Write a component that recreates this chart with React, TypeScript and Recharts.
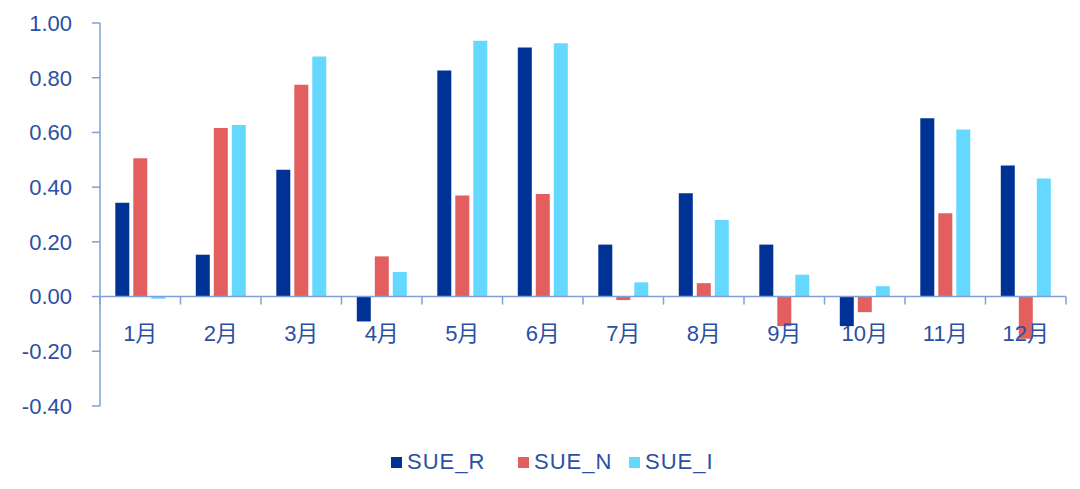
import React from 'react';
import { BarChart, Bar, XAxis, YAxis, ReferenceLine, Legend } from 'recharts';

const months = ['1月', '2月', '3月', '4月', '5月', '6月', '7月', '8月', '9月', '10月', '11月', '12月'];
const sueR = [0.343, 0.153, 0.464, -0.091, 0.826, 0.91, 0.19, 0.378, 0.19, -0.108, 0.652, 0.479];
const sueN = [0.506, 0.616, 0.774, 0.147, 0.369, 0.375, -0.013, 0.049, -0.108, -0.057, 0.305, -0.154];
const sueI = [-0.008, 0.627, 0.878, 0.09, 0.935, 0.926, 0.052, 0.28, 0.08, 0.038, 0.611, 0.432];
const yTicks = [-0.4, -0.2, 0, 0.2, 0.4, 0.6, 0.8, 1.0];
const seriesNames = ['SUE_R', 'SUE_N', 'SUE_I'];

const data = months.map((m, i) => ({ month: m, SUE_R: sueR[i], SUE_N: sueN[i], SUE_I: sueI[i] }));

const W = 1080;
const H = 489;
const M_TOP = 23;
const M_RIGHT = 14;
const M_BOTTOM = 23;
const X_H = 30;
const LEG_H = 30;
const Y_MIN = -0.4;
const Y_MAX = 1.0;
const PLOT_H = H - M_TOP - M_BOTTOM - X_H - LEG_H;
const ZERO_OFF = (PLOT_H * (0 - Y_MIN)) / (Y_MAX - Y_MIN);

const FONT = '"Liberation Sans", Arial, "Noto Sans CJK SC", sans-serif';
const TEXT_COLOR = '#2B4FA3';
const AXIS_COLOR = '#7FA0D8';
const COLORS = ['#003296', '#E35F5F', '#64D8FF'];
const LEGEND_LEFTS = [391, 518, 629];

const XTick = (props: any) => {
  const { x, y, payload, index } = props;
  const zeroY = y - ZERO_OFF;
  const half = payload.offset || 0;
  return (
    <g>
      <line x1={x - half} x2={x - half} y1={zeroY} y2={zeroY + 8} stroke={AXIS_COLOR} strokeWidth={1.5} />
      {index === months.length - 1 && (
        <line x1={x + half} x2={x + half} y1={zeroY} y2={zeroY + 8} stroke={AXIS_COLOR} strokeWidth={1.5} />
      )}
      <text x={x} y={zeroY + 44} textAnchor="middle" fill={TEXT_COLOR} fontSize={22} fontFamily={FONT}>
        {payload.value}
      </text>
    </g>
  );
};

const LegendContent = () => (
  <div style={{ position: 'relative', height: LEG_H, width: W }}>
    {seriesNames.map((n, i) => (
      <div
        key={n}
        style={{ position: 'absolute', left: LEGEND_LEFTS[i], top: 0, height: LEG_H, display: 'flex', alignItems: 'center' }}
      >
        <div style={{ width: 11, height: 11, background: COLORS[i], marginRight: 5 }} />
        <span style={{ fontFamily: FONT, fontSize: 22, letterSpacing: 1, color: TEXT_COLOR, lineHeight: '30px' }}>{n}</span>
      </div>
    ))}
  </div>
);

export default function App() {
  return (
    <div style={{ position: 'absolute', left: 0, top: 0, width: W, height: H, background: '#fff' }}>
      <BarChart
        width={W}
        height={H}
        data={data}
        margin={{ top: M_TOP, right: M_RIGHT, bottom: M_BOTTOM, left: 0 }}
        barCategoryGap="19%"
        barGap={4}
      >
        <YAxis
          width={100}
          domain={[Y_MIN, Y_MAX]}
          ticks={yTicks}
          type="number"
          allowDataOverflow
          tickFormatter={(v: number) => v.toFixed(2)}
          axisLine={{ stroke: AXIS_COLOR, strokeWidth: 1.5 }}
          tickLine={{ stroke: AXIS_COLOR, strokeWidth: 1.5 }}
          tickSize={8}
          tickMargin={20}
          tick={{ fill: TEXT_COLOR, fontSize: 22, fontFamily: FONT }}
        />
        {seriesNames.map((n, i) => (
          <Bar key={n} dataKey={n} fill={COLORS[i]} isAnimationActive={false} />
        ))}
        <ReferenceLine y={0} stroke={AXIS_COLOR} strokeWidth={1.5} />
        <XAxis
          dataKey="month"
          height={X_H}
          axisLine={false}
          tickLine={false}
          tickSize={0}
          tickMargin={0}
          interval={0}
          tick={<XTick />}
        />
        <Legend
          verticalAlign="bottom"
          height={LEG_H}
          content={<LegendContent />}
          wrapperStyle={{ bottom: 12, left: 0, width: W }}
        />
      </BarChart>
    </div>
  );
}
